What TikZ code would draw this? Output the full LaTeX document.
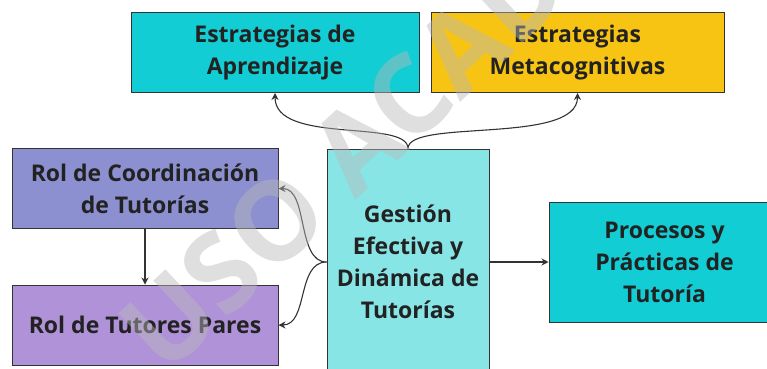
\documentclass[tikz,border=0pt]{standalone}
\usepackage{fontspec}
\setmainfont{Open Sans}
\usetikzlibrary{arrows.meta}
\definecolor{cyanbox}{HTML}{13CDD4}
\definecolor{yellowbox}{HTML}{F7C413}
\definecolor{bluebox}{HTML}{8C90D0}
\definecolor{lilacbox}{HTML}{B092D8}
\definecolor{lightbox}{HTML}{88E5E6}
\definecolor{edgecol}{HTML}{333333}
\definecolor{txtcol}{HTML}{222222}
\tikzset{
  box/.style={draw=edgecol, line width=1pt, inner sep=0pt, align=center,
    text=txtcol, font=\fontsize{23}{32}\selectfont\bfseries},
  arr/.style={draw=edgecol, line width=1.1pt, -{Stealth[length=7pt,width=7pt]}},
  wmark/.style={text=gray!55, opacity=0.45, font=\fontsize{110}{120}\selectfont\bfseries, inner sep=0pt}
}
\begin{document}
\begin{tikzpicture}[x=1pt,y=-1pt]
\clip (0,0) rectangle (767,368);
\fill[white] (0,0) rectangle (767,368);
\node[box, fill=cyanbox, minimum width=288pt, minimum height=80pt] (A) at (275,52.5) {Estrategias de\\Aprendizaje};
\node[box, fill=yellowbox, minimum width=293pt, minimum height=80pt] (B) at (577.5,52.5) {Estrategias\\Metacognitivas};
\node[box, fill=bluebox, minimum width=266pt, minimum height=80pt] (C) at (145,188.5) {Rol de Coordinación\\de Tutorías};
\node[box, fill=lilacbox, minimum width=266pt, minimum height=80pt] (D) at (145,325) {Rol de Tutores Pares};
\node[box, fill=lightbox, minimum width=162pt, minimum height=226pt] (E) at (408,262) {Gestión\\Efectiva y\\Dinámica de\\Tutorías};
\node[box, fill=cyanbox, minimum width=231pt, minimum height=120pt] (F) at (664.5,262) {Procesos y\\Prácticas de\\Tutoría};
\draw[arr] (E.north) .. controls +(0,-30) and +(0,52) .. (A.south);
\draw[arr] (E.north) .. controls +(0,-30) and +(0,52) .. (B.south);
\draw[arr] (E.west) .. controls +(-30,0) and +(30,0) .. (C.east);
\draw[arr] (E.west) .. controls +(-30,0) and +(30,0) .. (D.east);
\draw[arr] (C.south) -- (D.north);
\draw[arr] (E.east) -- (F.west);
\node[wmark, rotate=43, anchor=base west] (W) at (165,378) {USO ACAD};
\end{tikzpicture}
\end{document}
